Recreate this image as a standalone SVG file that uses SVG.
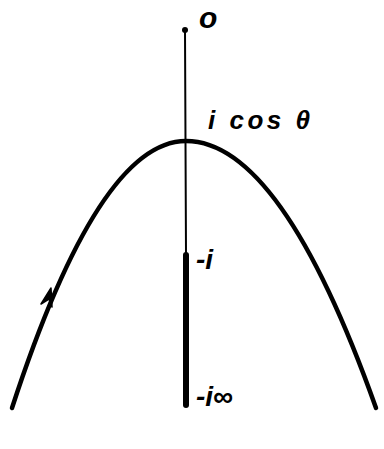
<svg xmlns="http://www.w3.org/2000/svg" width="384" height="449" viewBox="0 0 384 449">
<style>
.t{font-family:"Liberation Sans","DejaVu Sans",sans-serif;font-style:italic;font-weight:bold;fill:#000}
</style>
<rect width="384" height="449" fill="#fff"/>
<g id="connectors" fill="none" stroke="#000" stroke-linecap="round">
<line x1="185" y1="30" x2="186" y2="255" stroke-width="2"/>
<line x1="186" y1="255" x2="186" y2="405" stroke-width="6"/>
<path d="M12,408 Q99,141 186,141 Q281,141 376,408" stroke-width="4.5"/>
</g>
<g id="node-top"><circle cx="185" cy="30" r="3" fill="#000"/><text class="t" x="199" y="28" font-size="30">o</text></g>
<g id="node-apex"><text class="t" x="208" y="129" font-size="26" letter-spacing="3.5">i cos θ</text></g>
<g id="node-minus-i"><text class="t" x="196" y="269" font-size="28">-i</text></g>
<g id="node-minus-iinf"><text class="t" x="196" y="406" font-size="28">-i∞</text></g>
<g id="arrow"><path d="M51,288 L41,304 L49,299 L52,307 Z" fill="#000" stroke="#000" stroke-width="1.5" stroke-linejoin="round"/></g>
</svg>
